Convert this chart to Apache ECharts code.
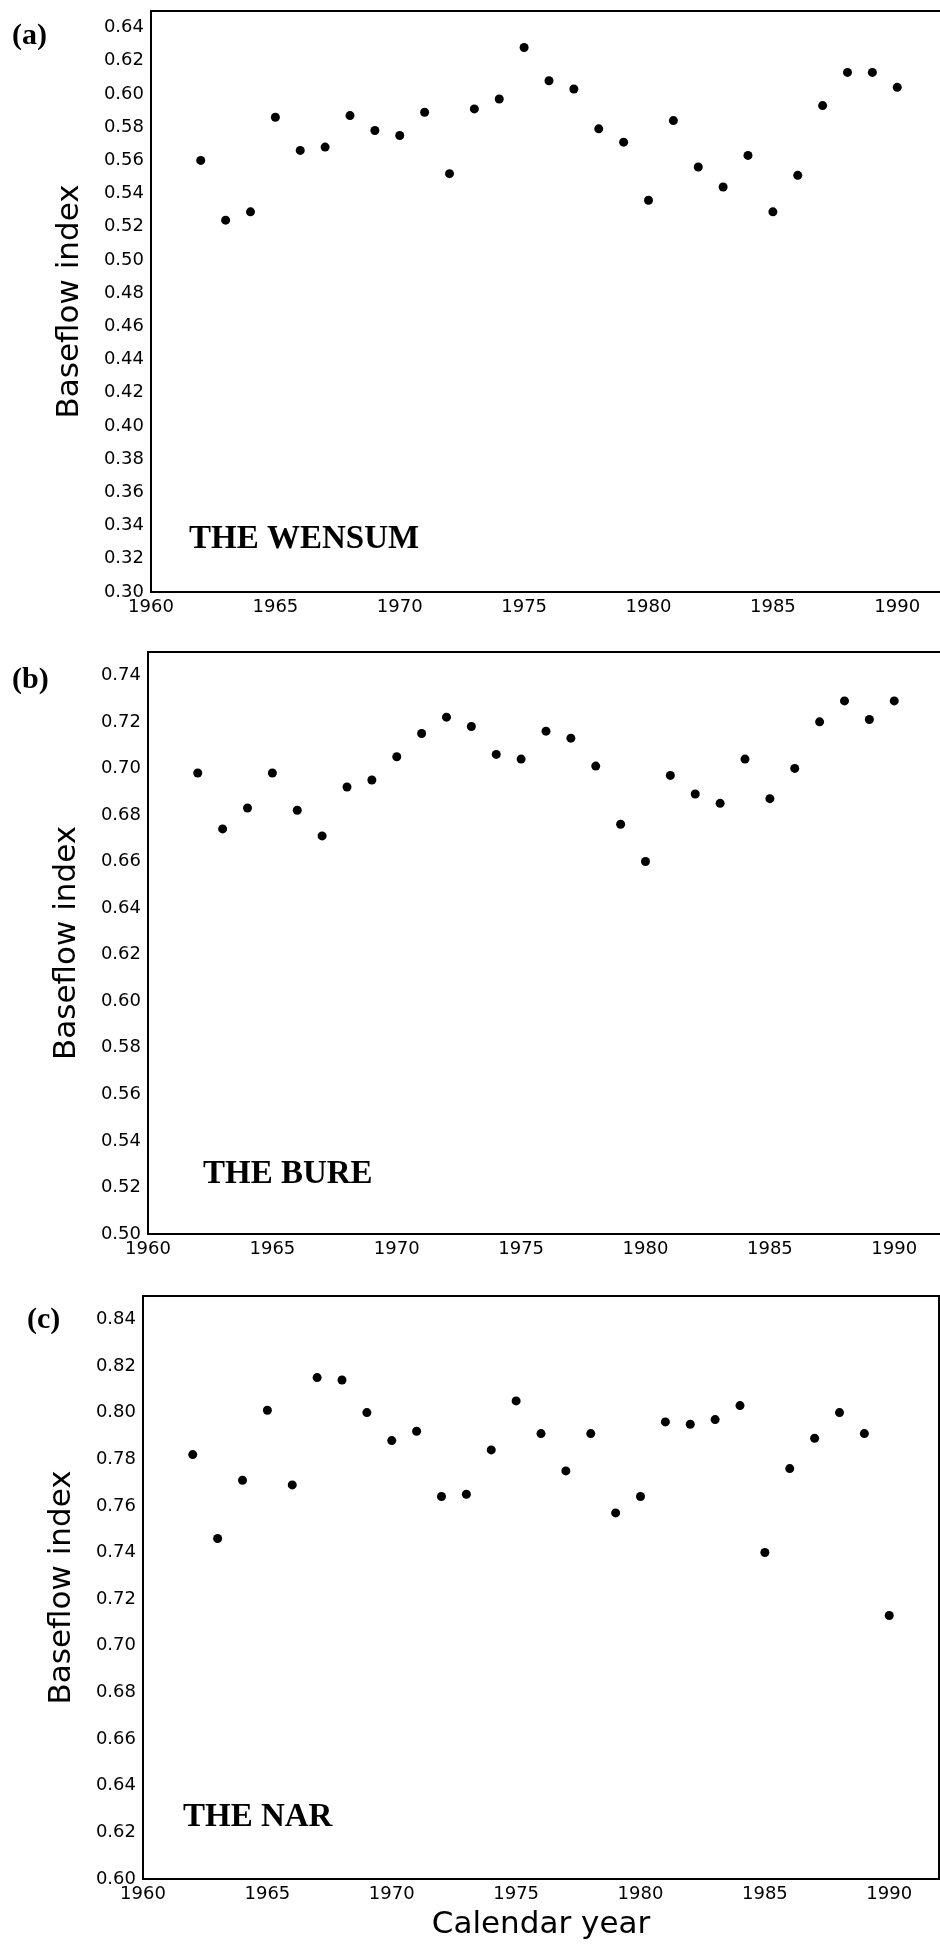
<!DOCTYPE html>
<html>
<head>
<meta charset="utf-8">
<title>Baseflow index</title>
<script src="https://cdn.jsdelivr.net/npm/echarts@6/dist/echarts.min.js"></script>
<style>
  html, body { margin: 0; padding: 0; background: #fff; }
  #chart { width: 940px; height: 1946px; }
</style>
</head>
<body>
<div id="chart"></div>
<script>
// Calendar years of the annual baseflow index values
const years = [1962, 1963, 1964, 1965, 1966, 1967, 1968, 1969, 1970, 1971,
               1972, 1973, 1974, 1975, 1976, 1977, 1978, 1979, 1980, 1981,
               1982, 1983, 1984, 1985, 1986, 1987, 1988, 1989, 1990];

// Annual baseflow index, River Wensum
const wensum = [0.560, 0.524, 0.529, 0.586, 0.566, 0.568, 0.587, 0.578, 0.575, 0.589,
                0.552, 0.591, 0.597, 0.628, 0.608, 0.603, 0.579, 0.571, 0.536, 0.584,
                0.556, 0.544, 0.563, 0.529, 0.551, 0.593, 0.613, 0.613, 0.604];

// Annual baseflow index, River Bure
const bure = [0.698, 0.674, 0.683, 0.698, 0.682, 0.671, 0.692, 0.695, 0.705, 0.715,
              0.722, 0.718, 0.706, 0.704, 0.716, 0.713, 0.701, 0.676, 0.660, 0.697,
              0.689, 0.685, 0.704, 0.687, 0.700, 0.720, 0.729, 0.721, 0.729];

// Annual baseflow index, River Nar
const nar = [0.782, 0.746, 0.771, 0.801, 0.769, 0.815, 0.814, 0.800, 0.788, 0.792,
             0.764, 0.765, 0.784, 0.805, 0.791, 0.775, 0.791, 0.757, 0.764, 0.796,
             0.795, 0.797, 0.803, 0.740, 0.776, 0.789, 0.800, 0.791, 0.713];

// Panel letters, river names and y ranges
const panelLetters = ['(a)', '(b)', '(c)'];
const riverNames = ['THE WENSUM', 'THE BURE', 'THE NAR'];
const yMins = [0.30, 0.50, 0.60];
const yMaxs = [0.65, 0.75, 0.85];
const yStep = 0.02;
const xMin = 1960, xMax = 1992, xStep = 5;
const yTitle = 'Baseflow index';
const xTitle = 'Calendar year';

const seriesValues = [wensum, bure, nar];

// Panel frames (pixel layout)
const grids = [
  { left: 151, top: 11,   width: 796, height: 581 },
  { left: 148, top: 652,  width: 796, height: 582 },
  { left: 143, top: 1296, width: 796, height: 583 }
];
const letterPos = [[12, 38], [12, 682], [27, 1322]];
const namePos = [[189, 540], [203, 1175], [183, 1818]];

const sansFont = '"DejaVu Sans", sans-serif';
const serifFont = '"Liberation Serif", "Times New Roman", serif';

const option = {
  backgroundColor: '#ffffff',
  animation: false,
  grid: grids.map(g => Object.assign({
    show: true,
    borderColor: '#000',
    borderWidth: 2,
    backgroundColor: 'transparent',
    containLabel: false,
    outerBoundsMode: 'none'
  }, g)),
  xAxis: grids.map((g, i) => ({
    type: 'value',
    gridIndex: i,
    min: xMin,
    max: xMax,
    interval: xStep,
    name: i === 2 ? xTitle : '',
    nameLocation: 'middle',
    nameGap: 30,
    nameTextStyle: { fontFamily: sansFont, fontSize: 31, color: '#000' },
    splitLine: { show: false },
    axisTick: { show: false },
    axisLine: { show: true, onZero: false, lineStyle: { color: '#000', width: 2 } },
    axisLabel: {
      showMaxLabel: false,
      hideOverlap: false,
      margin: 6,
      fontFamily: sansFont,
      fontSize: 18,
      color: '#000',
      formatter: v => String(Math.round(v))
    }
  })),
  yAxis: grids.map((g, i) => ({
    type: 'value',
    gridIndex: i,
    min: yMins[i],
    max: yMaxs[i],
    interval: yStep,
    name: yTitle,
    nameLocation: 'middle',
    nameRotate: 90,
    nameGap: 66,
    nameTextStyle: { fontFamily: sansFont, fontSize: 31, color: '#000' },
    splitLine: { show: false },
    axisTick: { show: false },
    axisLine: { show: true, onZero: false, lineStyle: { color: '#000', width: 2 } },
    axisLabel: {
      showMaxLabel: false,
      hideOverlap: false,
      margin: 7,
      fontFamily: sansFont,
      fontSize: 18,
      color: '#000',
      formatter: v => v.toFixed(2)
    }
  })),
  series: seriesValues.map((vals, i) => ({
    type: 'scatter',
    xAxisIndex: i,
    yAxisIndex: i,
    symbol: 'circle',
    symbolSize: 9,
    itemStyle: { color: '#000', opacity: 1 },
    silent: true,
    data: years.map((yr, k) => [yr, vals[k]])
  })),
  graphic: [
    ...panelLetters.map((t, i) => ({
      type: 'text',
      left: letterPos[i][0],
      top: letterPos[i][1] - 17,
      style: { text: t, font: 'bold 30px ' + serifFont, fill: '#000' }
    })),
    ...riverNames.map((t, i) => ({
      type: 'text',
      left: namePos[i][0],
      top: namePos[i][1] - 17,
      style: { text: t, font: 'bold 33px ' + serifFont, fill: '#000' }
    }))
  ]
};

const chart = echarts.init(document.getElementById('chart'), null, { renderer: 'canvas' });
chart.setOption(option);
</script>
</body>
</html>
